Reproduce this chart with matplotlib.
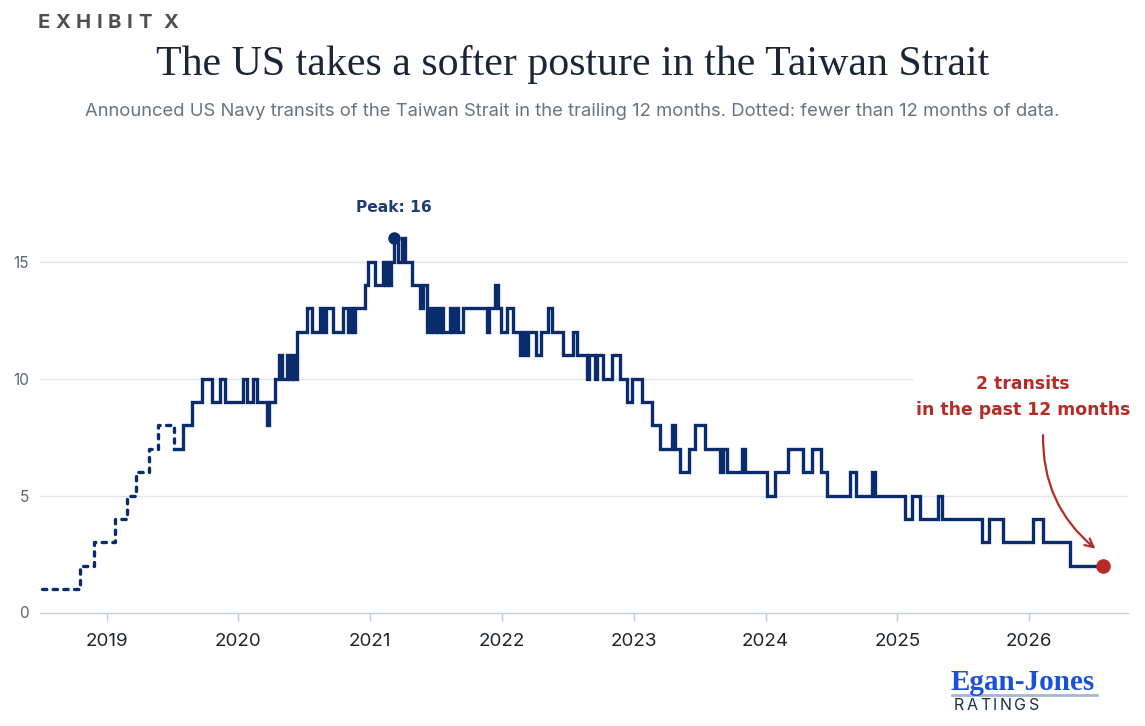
import numpy as np
import matplotlib
matplotlib.use("Agg")
import matplotlib.pyplot as plt

# trailing 12-month count of announced transits
# (decimal year where the count changes, new count)
change_year = [
    2018.509, 2018.797, 2018.904, 2019.063, 2019.154, 2019.222, 2019.321, 2019.389,
    2019.511, 2019.579, 2019.647, 2019.723, 2019.799, 2019.860, 2019.898,
    2020.034, 2020.065, 2020.110, 2020.141, 2020.217, 2020.232, 2020.277, 2020.308,
    2020.331, 2020.368, 2020.384, 2020.406, 2020.422, 2020.444, 2020.520, 2020.558,
    2020.619, 2020.642, 2020.664, 2020.718, 2020.793, 2020.831, 2020.853, 2020.868,
    2020.884, 2020.960, 2020.983,
    2021.036, 2021.097, 2021.112, 2021.127, 2021.143, 2021.158, 2021.181, 2021.211,
    2021.241, 2021.264, 2021.317, 2021.378, 2021.401, 2021.431, 2021.454, 2021.477,
    2021.500, 2021.515, 2021.538, 2021.553, 2021.606, 2021.621, 2021.644, 2021.667,
    2021.704, 2021.886, 2021.901, 2021.947, 2021.970, 2021.993,
    2022.038, 2022.084, 2022.137, 2022.152, 2022.175, 2022.198, 2022.258, 2022.296,
    2022.349, 2022.380, 2022.463, 2022.539, 2022.569, 2022.645, 2022.661, 2022.706,
    2022.721, 2022.767, 2022.835, 2022.896, 2022.949, 2022.987,
    2023.063, 2023.139, 2023.200, 2023.291, 2023.314, 2023.352, 2023.420, 2023.465,
    2023.543, 2023.657, 2023.680, 2023.710, 2023.819, 2023.842,
    2024.011, 2024.072, 2024.171, 2024.285, 2024.354, 2024.421, 2024.467, 2024.642,
    2024.687, 2024.809, 2024.832,
    2025.055, 2025.108, 2025.169, 2025.309, 2025.340, 2025.643, 2025.696, 2025.803,
    2026.030, 2026.106, 2026.311,
]
transits = [
    1, 2, 3, 4, 5, 6, 7, 8,
    7, 8, 9, 10, 9, 10, 9,
    10, 9, 10, 9, 8, 9, 10, 11,
    10, 11, 10, 11, 10, 12, 13, 12,
    13, 12, 13, 12, 13, 12, 13, 12,
    13, 14, 15,
    14, 15, 14, 15, 14, 15, 16, 15,
    16, 15, 14, 13, 14, 12, 13, 12,
    13, 12, 13, 12, 13, 12, 13, 12,
    13, 12, 13, 14, 13, 12,
    13, 12, 11, 12, 11, 12, 11, 12,
    13, 12, 11, 12, 11, 10, 11, 10,
    11, 10, 11, 10, 9, 10,
    9, 8, 7, 8, 7, 6, 7, 8,
    7, 6, 7, 6, 7, 6,
    5, 6, 7, 6, 7, 6, 5, 6,
    5, 6, 5,
    4, 5, 4, 5, 4, 3, 4, 3,
    4, 3, 2,
]
end_year = 2026.562       # latest data point
full_window = 2019.511    # first date with a full 12 months of data
years = [2019, 2020, 2021, 2022, 2023, 2024, 2025, 2026]
yticks = [0, 5, 10, 15]

W, H = 1145, 726
navy = "#0a2c6c"
red = "#b52b26"

plt.rcParams["font.family"] = ["Inter", "DejaVu Sans"]
fig = plt.figure(figsize=(W / 100, H / 100), dpi=100)
ax = fig.add_axes([40 / W, 113.5 / H, 1088 / W, 18 * 23.4 / H])

xs = np.array(change_year + [end_year])
ys = np.array(transits + [transits[-1]])
k = change_year.index(full_window)

# dotted while the window is incomplete, solid afterwards
ax.step(xs[:k + 1], ys[:k + 1], where="post", color=navy, lw=2.4,
        dashes=(1.3, 1.9), dash_capstyle="round", zorder=3)
ax.step(xs[k:], ys[k:], where="post", color=navy, lw=2.4,
        solid_joinstyle="miter", zorder=3)

# peak marker
ip = int(np.argmax(ys))
ax.plot(xs[ip], ys[ip], "o", color=navy, ms=8, zorder=4)
ax.annotate(f"Peak: {ys[ip]}", (xs[ip], ys[ip]), xytext=(0, 22),
            textcoords="offset points", ha="center", va="center",
            fontsize=11.2, fontweight="bold", color="#1f3c78",
            family=["DejaVu Sans"])

# latest point + note
ax.plot(end_year, transits[-1], "o", color=red, ms=9.5, zorder=5)
ax.text(2025.954, 9.2, f"{transits[-1]} transits\nin the past 12 months",
        ha="center", va="center", fontsize=12.4, fontweight="bold",
        color=red, linespacing=1.55, family=["DejaVu Sans"], zorder=6,
        bbox=dict(facecolor="white", edgecolor="none", pad=1))
ax.annotate("", xy=(2026.52, 2.65), xytext=(2026.107, 7.7),
            arrowprops=dict(arrowstyle="->,head_length=0.6,head_width=0.3",
                            color=red, lw=1.6,
                            connectionstyle="arc3,rad=0.25"),
            zorder=6)

ax.set_xlim(2018.494, 2026.751)
ax.set_ylim(0, 18)
ax.set_xticks(years)
ax.set_xticklabels([str(y) for y in years])
ax.set_yticks(yticks)
ax.set_yticklabels([str(v) for v in yticks])
ax.tick_params(axis="x", length=6, width=1, color="#c3cbd6", pad=9,
               labelsize=13.5, labelcolor="#1f2430")
ax.tick_params(axis="y", length=0, pad=8, labelsize=11, labelcolor="#5c6470")
for s in ["top", "right", "left"]:
    ax.spines[s].set_visible(False)
ax.spines["bottom"].set_color("#c3cbd6")
ax.spines["bottom"].set_linewidth(1)
for v in yticks[1:]:
    ax.axhline(v, color="#e2e7ee", lw=1, zorder=1)

# header
fig.text(0.5, 1 - 65 / H, "The US takes a softer posture in the Taiwan Strait",
         ha="center", va="center", fontsize=30.2, color="#1b2535",
         family=["Liberation Serif"])
fig.text(0.5, 1 - 112 / H,
         "Announced US Navy transits of the Taiwan Strait in the trailing 12 months. "
         "Dotted: fewer than 12 months of data.",
         ha="center", va="center", fontsize=13.3, color="#6b7280")

renderer = fig.canvas.get_renderer()


def spaced_text(x0, y0, s, width, space=0.35, **kw):
    # lay out letters one by one so the word spans the given pixel width
    parts = []
    for ch in s:
        if ch == " ":
            parts.append((None, kw["fontsize"] * space))
            continue
        t = fig.text(0, y0 / H, ch, va="center", ha="left", **kw)
        parts.append((t, t.get_window_extent(renderer).width))
    natural = sum(w for _, w in parts)
    gap = (width - natural) / (len(parts) - 1)
    x = x0
    for t, w in parts:
        if t is not None:
            t.set_x(x / W)
        x += w + gap


spaced_text(38, 726 - 23, "EXHIBIT X", 140, space=0.05, fontsize=14.5,
            fontweight="bold", color="#4f4f52")

# logo
fig.text(951 / W, 1 - 690 / H, "Egan-Jones", ha="left", va="baseline",
         fontsize=21, fontweight="bold", color="#1b50d8",
         family=["Liberation Serif"])
fig.add_artist(plt.Line2D([952 / W, 1097 / W], [1 - 695 / H, 1 - 695 / H],
                          color="#a7b7cc", lw=2))
spaced_text(954, 726 - 706, "RATINGS", 85, fontsize=11.5, color="#1e2b4a")

fig.savefig("out.png", dpi=100)
